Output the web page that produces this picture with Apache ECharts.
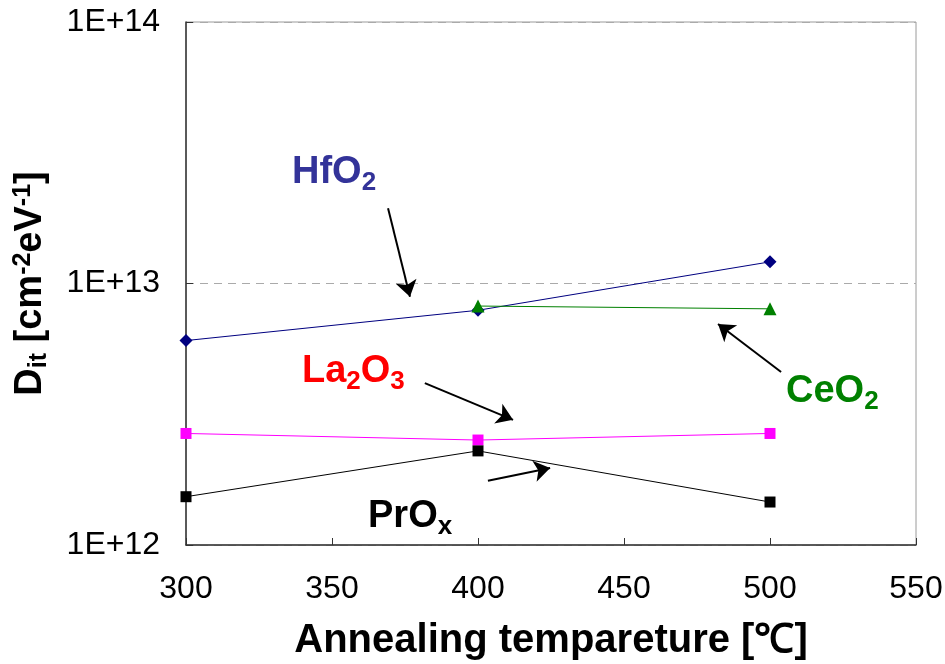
<!DOCTYPE html>
<html>
<head>
<meta charset="utf-8">
<script src="https://cdn.jsdelivr.net/npm/echarts@6/dist/echarts.min.js"></script>
<style>
  html, body { margin: 0; padding: 0; background: #fff; }
  #chart { width: 945px; height: 664px; }
</style>
</head>
<body>
<div id="chart"></div>
<script>
// Annealing temperatures (°C)
const temps = [300, 400, 500];

// Interface trap density D_it (cm^-2 eV^-1) for each dielectric
const hfo2  = [6.05e12, 7.9e12, 12.1e12];
const ceo2  = [null, 8.2e12, 8.0e12];
const la2o3 = [2.67e12, 2.52e12, 2.67e12];
const prox  = [1.53e12, 2.29e12, 1.46e12];

// Axis ranges and ticks
const xTicks = { min: 300, max: 550, step: 50 };
const yRange = { min: 1e12, max: 1e14 };

// Callout arrows in data coordinates: [from, to]
const arrows = [
  [[369.2, 19.4e12], [376.7, 8.9e12]],   // HfO2
  [[381.8, 4.16e12], [412.0, 3.01e12]],  // La2O3
  [[403.4, 1.76e12], [424.7, 1.97e12]],  // PrOx
  [[503.8, 4.59e12], [482.2, 7.0e12]]    // CeO2
];

const pair = (xs, ys) => xs.map((x, i) => [x, ys[i]]).filter(p => p[1] != null);

const sans = '"Liberation Sans", Arial, sans-serif';

const chart = echarts.init(document.getElementById('chart'), null, { renderer: 'canvas' });

function lineSeries(name, ys, color, symbol, size) {
  return {
    name, type: 'line', data: pair(temps, ys),
    symbol, symbolSize: size, showSymbol: true,
    lineStyle: { color, width: 1 },
    itemStyle: { color },
    emphasis: { disabled: true },
    animation: false, z: 3
  };
}

function calloutText(left, top, parts, color) {
  return {
    type: 'text', left, top, z: 10,
    style: {
      text: parts,
      fill: color,
      rich: {
        b: { fontFamily: sans, fontWeight: 'bold', fontSize: 38, fill: color, lineHeight: 40 },
        s: { fontFamily: sans, fontWeight: 'bold', fontSize: 26, fill: color, padding: [20, 0, 0, 0], lineHeight: 40 }
      }
    }
  };
}

const option = {
  backgroundColor: '#ffffff',
  animation: false,
  grid: {
    left: 186, right: 29, top: 22, bottom: 119,
    outerBoundsMode: 'none', containLabel: false,
    show: true, borderColor: '#9a9a9a', borderWidth: 1
  },
  xAxis: {
    type: 'value', min: xTicks.min, max: xTicks.max, interval: xTicks.step,
    name: 'Annealing tempareture [℃]', nameLocation: 'middle', nameGap: 76,
    nameTextStyle: { fontFamily: sans, fontWeight: 'bold', fontSize: 40, color: '#000' },
    axisLine: { show: true, lineStyle: { color: '#333', width: 1.5 } },
    axisTick: { show: true, inside: true, length: 7, lineStyle: { color: '#333' } },
    axisLabel: { fontFamily: sans, fontSize: 32, color: '#000', margin: 28 },
    splitLine: { show: false }
  },
  yAxis: {
    type: 'log', logBase: 10, min: yRange.min, max: yRange.max,
    name: 'D{sub|it} [cm{sup|-2}eV{sup|-1}]', nameLocation: 'middle', nameGap: 134, nameRotate: 90,
    nameTextStyle: {
      fontFamily: sans, fontWeight: 'bold', fontSize: 38, color: '#000',
      rich: {
        sub: { fontFamily: sans, fontWeight: 'bold', fontSize: 25, color: '#000', padding: [17, 0, 0, 0] },
        sup: { fontFamily: sans, fontWeight: 'bold', fontSize: 25, color: '#000', padding: [0, 0, 15, 0] }
      }
    },
    axisLine: { show: true, lineStyle: { color: '#333', width: 1.5 } },
    axisTick: { show: true, inside: true, length: 7, lineStyle: { color: '#333' } },
    axisLabel: {
      fontFamily: sans, fontSize: 32, color: '#000', margin: 26,
      formatter: v => '1E+' + Math.round(Math.log10(v))
    },
    splitLine: { show: true, lineStyle: { color: '#aaa', type: [8, 6], width: 1.2 } }
  },
  series: [
    lineSeries('HfO2', hfo2, '#000080', 'diamond', 13),
    lineSeries('CeO2', ceo2, '#008000', 'triangle', 13),
    lineSeries('La2O3', la2o3, '#ff00ff', 'rect', 11),
    Object.assign(lineSeries('PrOx', prox, '#000000', 'rect', 11), {
      markLine: {
        silent: true, animation: false,
        symbol: ['none', 'arrow'], symbolSize: 16,
        label: { show: false },
        lineStyle: { color: '#000', width: 2, type: 'solid' },
        data: arrows.map(a => [{ coord: a[0] }, { coord: a[1] }])
      }
    })
  ],
  graphic: [
    calloutText(292, 150, '{b|HfO}{s|2}', '#333399'),
    calloutText(302, 349, '{b|La}{s|2}{b|O}{s|3}', '#ff0000'),
    calloutText(786, 369, '{b|CeO}{s|2}', '#008000'),
    calloutText(368, 494, '{b|PrO}{s|x}', '#000000')
  ]
};

chart.setOption(option);
</script>
</body>
</html>
